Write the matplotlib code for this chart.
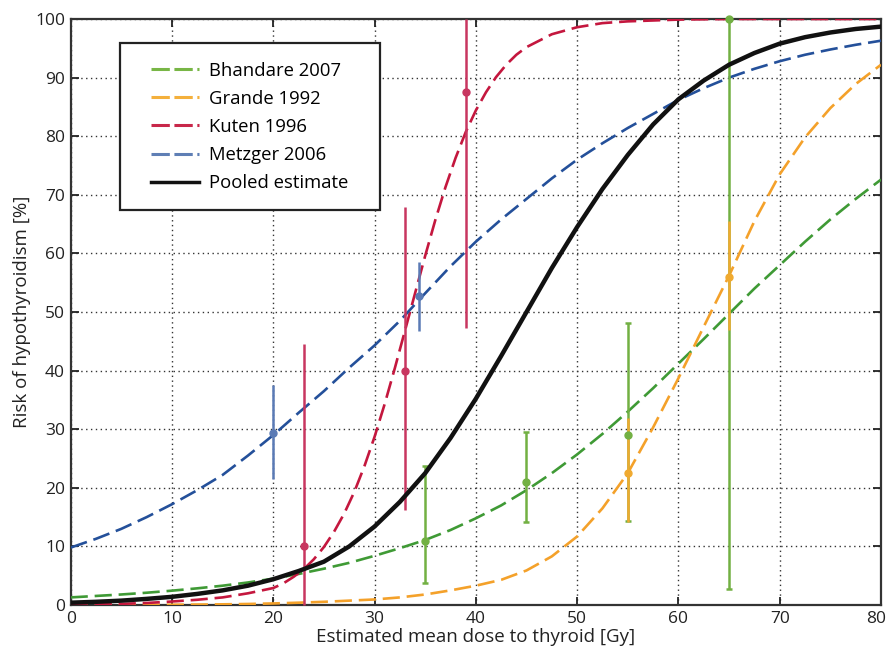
import matplotlib
matplotlib.use("Agg")
import matplotlib.pyplot as plt
from matplotlib.lines import Line2D
from matplotlib.patches import Rectangle
from matplotlib.transforms import ScaledTranslation

plt.rcParams['font.family'] = ['Open Sans', 'DejaVu Sans']

# ---- data ----
dose = [0, 2.5, 5, 7.5, 10, 12.5, 15, 17.5, 20, 22.5, 25, 27.5, 30, 32.5, 35, 37.5,
        40, 42.5, 45, 47.5, 50, 52.5, 55, 57.5, 60, 62.5, 65, 67.5, 70, 72.5, 75, 77.5, 80]

bhandare_curve = [1.3, 1.55, 1.8, 2.1, 2.45, 2.85, 3.3, 3.85, 4.5, 5.3, 6.2, 7.2, 8.4, 9.7,
                  11.1, 12.8, 14.8, 17.0, 19.6, 22.5, 25.7, 29.2, 33.0, 37.0, 41.2, 45.4,
                  49.7, 54.0, 58.0, 62.0, 65.8, 69.3, 72.6]
grande_curve = [0.0, 0.01, 0.02, 0.03, 0.05, 0.08, 0.12, 0.18, 0.27, 0.4, 0.55, 0.75, 0.95,
                1.3, 1.8, 2.5, 3.3, 4.3, 5.9, 8.3, 11.7, 16.5, 22.5, 30.3, 38.7, 47.5, 56.2,
                65.5, 73.5, 79.8, 84.8, 88.9, 92.2]
metzger_curve = [9.8, 11.3, 13.0, 15.0, 17.2, 19.6, 22.2, 25.5, 29.0, 32.8, 36.5, 40.5,
                 44.3, 48.5, 53.2, 57.8, 62.0, 65.8, 69.3, 72.8, 76.0, 78.8, 81.4, 83.8,
                 86.2, 88.2, 90.0, 91.5, 92.8, 93.9, 94.8, 95.6, 96.3]
pooled_curve = [0.4, 0.55, 0.75, 1.05, 1.4, 1.9, 2.5, 3.3, 4.4, 5.8, 7.4, 10.0, 13.4, 17.6,
                22.5, 28.5, 35.2, 42.5, 50.0, 57.5, 64.5, 71.0, 76.8, 82.0, 86.3, 89.5,
                92.2, 94.2, 95.8, 96.9, 97.7, 98.3, 98.7]

# Kuten curve is steep, so it is read on a finer dose grid
kuten_dose = [0, 2.5, 5, 7.5, 10, 12.5, 15, 17.5, 20, 21, 22, 23, 24, 25, 26, 27, 28, 29,
              30, 31, 32, 33, 34, 35, 36, 37, 38, 39, 40, 41, 42, 43, 44, 45, 47.5, 50,
              52.5, 55, 60, 65, 70, 75, 80]
kuten_curve = [0.05, 0.1, 0.2, 0.35, 0.6, 0.9, 1.3, 2.0, 2.9, 3.7, 4.8, 6.1, 7.8, 9.9,
               12.5, 15.6, 19.3, 23.7, 28.7, 34.3, 40.4, 46.8, 53.2, 59.6, 65.7, 71.3,
               76.3, 80.7, 84.4, 87.5, 90.1, 92.2, 93.9, 95.2, 97.4, 98.6, 99.3, 99.6,
               99.9, 100, 100, 100, 100]

# observed points: dose, risk, lower, upper
bhandare_x = [35, 45, 55, 65]
bhandare_y = [11, 21, 29, 100]
bhandare_lo = [3.7, 14.2, 14.3, 2.7]
bhandare_hi = [23.7, 29.6, 48.2, 100]

grande_x = [55, 65]
grande_y = [22.5, 56]
grande_lo = [14.2, 47]
grande_hi = [32, 65.5]

kuten_x = [23, 33, 39]
kuten_y = [10, 40, 87.6]
kuten_lo = [0, 16.2, 47.3]
kuten_hi = [44.6, 67.9, 100]

metzger_x = [20, 34.4]
metzger_y = [29.3, 52.7]
metzger_lo = [21.5, 46.8]
metzger_hi = [37.6, 58.6]

labels = ['Bhandare 2007', 'Grande 1992', 'Kuten 1996', 'Metzger 2006', 'Pooled estimate']
x_ticks = [0, 10, 20, 30, 40, 50, 60, 70, 80]
y_ticks = [0, 10, 20, 30, 40, 50, 60, 70, 80, 90, 100]

# ---- styling ----
curve_cols = ['#3f9a35', '#f4a12a', '#c4173e', '#24509a', '#000000']
bar_cols = ['#72b043', '#f0aa30', '#c83660', '#5a7ab5']
leg_cols = ['#78b646', '#f4b03c', '#c8274a', '#5f7fb5', '#111111']

fig = plt.figure(figsize=(8.89, 6.58), dpi=100)
ax = fig.add_axes([0.0795, 0.0805, 0.9115, 0.8906])

dash = (6.5, 2.6)
ax.plot(dose, bhandare_curve, color=curve_cols[0], lw=1.9, dashes=dash, zorder=3)
ax.plot(dose, grande_curve, color=curve_cols[1], lw=1.9, dashes=dash, zorder=3)
ax.plot(kuten_dose, kuten_curve, color=curve_cols[2], lw=1.9, dashes=dash, zorder=3)
ax.plot(dose, metzger_curve, color=curve_cols[3], lw=1.9, dashes=dash, zorder=3)

def ebar(xs, ys, lo, hi, col, cap):
    yerr = [[y - l for y, l in zip(ys, lo)], [h - y for y, h in zip(ys, hi)]]
    ax.errorbar(xs, ys, yerr=yerr, fmt='o', color=col, ms=5, elinewidth=1.8,
                capsize=cap, capthick=1.8, zorder=4, clip_on=False)

ebar(metzger_x, metzger_y, metzger_lo, metzger_hi, bar_cols[3], 0)
ebar(kuten_x, kuten_y, kuten_lo, kuten_hi, bar_cols[2], 0)
ebar(bhandare_x, bhandare_y, bhandare_lo, bhandare_hi, bar_cols[0], 2.5)
ebar(grande_x, grande_y, grande_lo, grande_hi, bar_cols[1], 0)

ax.plot(dose, pooled_curve, color='#111111', lw=3.2, zorder=5)

ax.set_xlim(0, 80)
ax.set_ylim(0, 100)
ax.set_xticks(x_ticks)
ax.set_yticks(y_ticks)
ax.tick_params(direction='in', length=6, width=1.3, top=True, right=True,
               labelsize=12.5, colors='#222222', pad=4)
ax.grid(True, color='#333333', linestyle=(0, (1, 2.5)), linewidth=1.0)
for s in ax.spines.values():
    s.set_linewidth(1.6)
    s.set_color('#333333')

# keep the last x tick label inside the canvas
last = ax.get_xticklabels()[-1]
last.set_transform(last.get_transform() + ScaledTranslation(-5 / 100, 0, fig.dpi_scale_trans))

ax.set_xlabel('Estimated mean dose to thyroid [Gy]', fontsize=13.5, color='#222222', labelpad=1)
ax.set_ylabel('Risk of hypothyroidism [%]', fontsize=13.5, color='#222222', labelpad=3)

# legend box
ax.add_patch(Rectangle((0.0608, 0.674), 0.3209, 0.285, transform=ax.transAxes,
                       facecolor='white', edgecolor='#222222', linewidth=1.6, zorder=6))
handles = [Line2D([], [], color=c, lw=2.2, dashes=(6, 1.5)) for c in leg_cols[:4]]
handles.append(Line2D([], [], color=leg_cols[4], lw=2.5))
leg = ax.legend(handles, labels, loc='upper left', bbox_to_anchor=(0.0991, 0.9275),
                fontsize=13.3, frameon=False, handlelength=2.6, borderpad=0,
                labelspacing=0.55, handletextpad=0.55, borderaxespad=0)
leg.set_zorder(7)

fig.savefig('out.png', dpi=100, facecolor='white')
